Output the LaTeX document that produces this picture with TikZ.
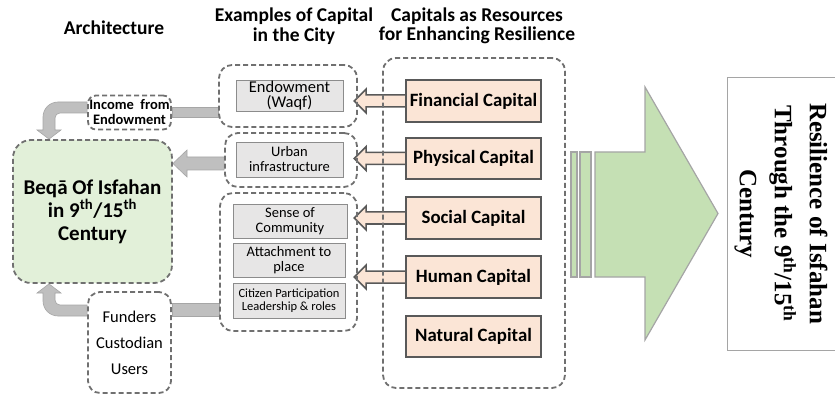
\documentclass[tikz,border=0pt]{standalone}
\usepackage{fontspec}
\setmainfont{Carlito}
\newfontfamily\tnr{Liberation Serif}
\usetikzlibrary{calc}
\pgfdeclarelayer{background}
\pgfsetlayers{background,main}
\definecolor{dashc}{HTML}{707070}
\definecolor{peachfill}{HTML}{FBE5D6}
\definecolor{peachline}{HTML}{595959}
\definecolor{boxfill}{HTML}{E7E6E6}
\definecolor{boxline}{HTML}{8C8C8C}
\definecolor{greenfill}{HTML}{E2F0D9}
\definecolor{connfill}{HTML}{BFBFBF}
\definecolor{connline}{HTML}{A6A6A6}
\definecolor{bigfill}{HTML}{C5E0B4}
\definecolor{bigline}{HTML}{A5A5A5}
\tikzset{
  dgroup/.style={draw=dashc, line width=1.8pt, dash pattern=on 5pt off 3pt, rounded corners=13pt, inner sep=0pt},
  capbox/.style={draw=peachline, line width=1.6pt, fill=peachfill, minimum width=135pt, inner sep=0pt, font=\fontsize{18.8}{20}\selectfont\bfseries},
  inbox/.style={draw=boxline, line width=0.8pt, fill=boxfill, inner sep=0pt, align=center},
  heading/.style={align=center, font=\fontsize{19.5}{19.5}\selectfont\bfseries},
  peach/.style={draw=peachline, line width=1.5pt, fill=peachfill, line join=miter},
  conn/.style={draw=connline, line width=0.6pt, fill=connfill},
  bigarrow/.style={draw=bigline, line width=1.2pt, fill=bigfill}
}
\newcommand\peacharrow[1]{\draw[peach] ($(#1.west)+(4,-6)$) -- ++(-43,0) -- ++(0,-6) -- ++(-12,12) -- ++(12,12) -- ++(0,-6) -- ++(43,0) -- cycle;}
\begin{document}
\begin{tikzpicture}[x=1pt,y=-1pt]
\useasboundingbox (0,0) rectangle (835,398);
% headings
\node[heading] (hArch) at (114,28) {Architecture};
\node[heading] (hEx) at (294,26) {Examples of Capital\\in the City};
\node[heading] (hCap) at (477,26) {Capitals as Resources\\for Enhancing Resilience};
% capitals
\node[capbox, minimum height=42pt] (fin) at (473.5,101) {Financial Capital};
\node[capbox, minimum height=41pt] (phy) at (473.5,158.5) {Physical Capital};
\node[capbox, minimum height=42pt] (soc) at (473.5,218) {Social Capital};
\node[capbox, minimum height=42pt] (hum) at (473.5,277) {Human Capital};
\node[capbox, minimum height=41pt] (nat) at (473.5,336.5) {Natural Capital};
\node[dgroup, minimum width=182pt, minimum height=330pt] (capg) at (474,223) {};
% middle groups
\node[dgroup, minimum width=138pt, minimum height=62pt] (g1) at (288,96) {};
\node[inbox, minimum width=107pt, minimum height=31pt, font=\fontsize{16.5}{15.5}\selectfont] (endow) at (289.5,95.5) {Endowment\\(Waqf)};
\node[dgroup, minimum width=132pt, minimum height=54pt] (g2) at (291,160) {};
\node[inbox, minimum width=107pt, minimum height=35pt, font=\fontsize{14.5}{15}\selectfont] (urban) at (289.5,159.5) {Urban\\infrastructure};
\node[dgroup, minimum width=137pt, minimum height=138pt] (g3) at (288.5,262) {};
\node[inbox, minimum width=114pt, minimum height=34pt, font=\fontsize{14.5}{15}\selectfont] (sense) at (290,221) {Sense of\\Community};
\node[inbox, minimum width=112pt, minimum height=34pt, font=\fontsize{14.5}{15}\selectfont] (attach) at (289,260) {Attachment to\\place};
\node[inbox, minimum width=112pt, minimum height=35pt, font=\fontsize{12.5}{13}\selectfont] (citizen) at (289,300.5) {Citizen Participation\\Leadership \& roles};
% left
\node[dgroup, fill=greenfill, minimum width=159pt, minimum height=143pt, rounded corners=18pt, align=center, font=\fontsize{21}{23}\selectfont\bfseries] (beqa) at (92.5,211.5) {Beqā Of Isfahan\\in 9\textsuperscript{th}/15\textsuperscript{th}\\Century};
\node[dgroup, rounded corners=8pt, minimum width=83pt, minimum height=34pt, align=center, font=\fontsize{14.5}{15}\selectfont\bfseries] (income) at (129.5,112.5) {Income\ \ from\\Endowment};
\node[dgroup, rounded corners=12pt, minimum width=83pt, minimum height=101pt, align=center, font=\fontsize{16.5}{26}\selectfont] (funders) at (129.5,342.5) {Funders\\Custodian\\Users};
% right box
\node[draw=bigline, line width=0.6pt, minimum width=108pt, minimum height=273pt, inner sep=0pt] (resbox) at (781,213.5) {};
\node[rotate=-90, align=center, font=\tnr\fontsize{25}{35}\selectfont\bfseries] (restext) at (resbox.center) {Resilience of Isfahan\\Through the 9\textsuperscript{th}/15\textsuperscript{th}\\Century};
% big arrow
\coordinate (bigtip) at (718,213.5);
\draw[bigarrow] (595,152) -- (645,152) -- (645,87) -- (bigtip) -- (645,340) -- (645,277) -- (595,277) -- cycle;
\draw[bigarrow] (571,152) rectangle (577,277);
\draw[bigarrow] (580,152) rectangle (591,277);
% connectors
\begin{pgfonlayer}{background}
\peacharrow{fin}
\peacharrow{phy}
\peacharrow{soc}
\peacharrow{hum}
\draw[conn] ($(income.east)+(0,-5)$) rectangle ($(g1.west |- income.east)+(0,5)$);
\draw[conn] ($(g3.west)+(0,41)$) rectangle ($(funders.east |- g3.west)+(0,54)$);
\draw[conn] (g2.west |- 0,157) -- (187,157) -- (187,150) -- (beqa.east |- 0,163.5) -- (187,177) -- (187,170) -- (g2.west |- 0,170) -- cycle;
\draw[conn] (income.west |- 0,102) -- (58,102) .. controls (49.7,102) and (43,108.7) .. (43,117) -- (43,130) -- (37,130) -- (beqa.north -| 49,0) -- (61,130) -- (55,130) -- (55,118) .. controls (55,115.2) and (57.2,113) .. (60,113) -- (income.west |- 0,113) -- cycle;
\draw[conn] (funders.west |- 0,316) -- (58,316) .. controls (49.7,316) and (43,309.3) .. (43,301) -- (43,293) -- (37,293) -- (beqa.south -| 49,0) -- (61,293) -- (55,293) -- (55,300) .. controls (55,302.8) and (57.2,305) .. (60,305) -- (funders.west |- 0,305) -- cycle;
\end{pgfonlayer}
\end{tikzpicture}
\end{document}
